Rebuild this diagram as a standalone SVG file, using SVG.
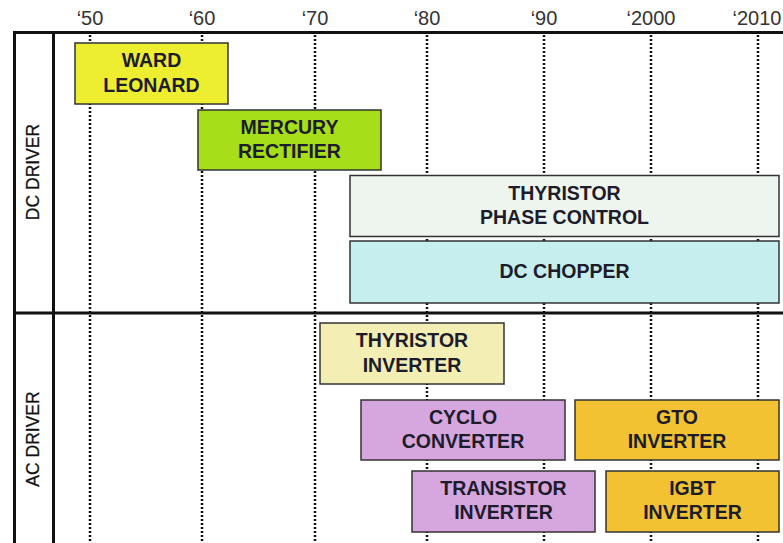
<svg xmlns="http://www.w3.org/2000/svg" width="783" height="543" viewBox="0 0 783 543">
<style>
.yr{font-family:"Liberation Sans",Arial,sans-serif;font-size:20px;fill:#333;text-anchor:middle}
.side{font-family:"Liberation Sans",Arial,sans-serif;font-size:17.5px;fill:#111;text-anchor:middle;stroke:#111;stroke-width:0.3}
.lbl{font-family:"Liberation Sans",Arial,sans-serif;font-size:19.5px;font-weight:bold;fill:#1c1c2a;text-anchor:middle}
.frame{stroke:#111;stroke-width:3;fill:none}
.dot{stroke:#111;stroke-width:2.5;stroke-dasharray:2 2;fill:none}
.box{stroke:#333;stroke-width:1.5}
</style>
<rect width="783" height="543" fill="#fff"/>
<g id="years">
<text class="yr" x="90" y="25">‘50</text>
<text class="yr" x="202" y="25">‘60</text>
<text class="yr" x="315" y="25">‘70</text>
<text class="yr" x="427" y="25">‘80</text>
<text class="yr" x="544" y="25">‘90</text>
<text class="yr" x="651" y="25">‘2000</text>
<text class="yr" x="757" y="25">‘2010</text>
</g>
<g id="grid">
<line class="dot" x1="90" y1="35" x2="90" y2="543"/>
<line class="dot" x1="202" y1="35" x2="202" y2="543"/>
<line class="dot" x1="315" y1="35" x2="315" y2="543"/>
<line class="dot" x1="427" y1="35" x2="427" y2="543"/>
<line class="dot" x1="544" y1="35" x2="544" y2="543"/>
<line class="dot" x1="651" y1="35" x2="651" y2="543"/>
<line class="dot" x1="758" y1="35" x2="758" y2="543"/>
<line class="frame" x1="13" y1="32.5" x2="783" y2="32.5"/>
<line class="frame" x1="13" y1="313" x2="783" y2="313"/>
<line class="frame" x1="14.5" y1="31" x2="14.5" y2="543"/>
<line class="frame" x1="53.5" y1="31" x2="53.5" y2="543"/>
</g>
<g id="dc-driver"><text class="side" transform="translate(39,172) rotate(-90)">DC DRIVER</text></g>
<g id="ac-driver"><text class="side" transform="translate(39,439) rotate(-90)">AC DRIVER</text></g>
<g id="ward-leonard">
<rect class="box" x="75" y="43" width="153" height="61" fill="#eeee30"/>
<text class="lbl" x="151.5" y="67">WARD</text>
<text class="lbl" x="151.5" y="92">LEONARD</text>
</g>
<g id="mercury-rectifier">
<rect class="box" x="198" y="110" width="183" height="60" fill="#a6de1a"/>
<text class="lbl" x="289.5" y="134">MERCURY</text>
<text class="lbl" x="289.5" y="158">RECTIFIER</text>
</g>
<g id="thyristor-phase-control">
<rect class="box" x="350" y="175.5" width="429" height="61" fill="#eef4ee" stroke="#555"/>
<text class="lbl" x="564.5" y="200">THYRISTOR</text>
<text class="lbl" x="564.5" y="224">PHASE CONTROL</text>
</g>
<g id="dc-chopper">
<rect class="box" x="350" y="241" width="429" height="62" fill="#c6eeee"/>
<text class="lbl" x="564.5" y="278">DC CHOPPER</text>
</g>
<g id="thyristor-inverter">
<rect class="box" x="320" y="323" width="184" height="61" fill="#f2eeb4"/>
<text class="lbl" x="412" y="347">THYRISTOR</text>
<text class="lbl" x="412" y="372">INVERTER</text>
</g>
<g id="cyclo-converter">
<rect class="box" x="361" y="400" width="204" height="60" fill="#d6a6de"/>
<text class="lbl" x="463" y="424">CYCLO</text>
<text class="lbl" x="463" y="448">CONVERTER</text>
</g>
<g id="gto-inverter">
<rect class="box" x="575" y="400" width="204" height="60" fill="#f2c233"/>
<text class="lbl" x="677" y="424">GTO</text>
<text class="lbl" x="677" y="448">INVERTER</text>
</g>
<g id="transistor-inverter">
<rect class="box" x="412" y="471" width="183" height="61" fill="#d6a6de"/>
<text class="lbl" x="503.5" y="495">TRANSISTOR</text>
<text class="lbl" x="503.5" y="519">INVERTER</text>
</g>
<g id="igbt-inverter">
<rect class="box" x="606" y="471" width="173" height="61" fill="#f2c233"/>
<text class="lbl" x="692.5" y="495">IGBT</text>
<text class="lbl" x="692.5" y="519">INVERTER</text>
</g>
</svg>
